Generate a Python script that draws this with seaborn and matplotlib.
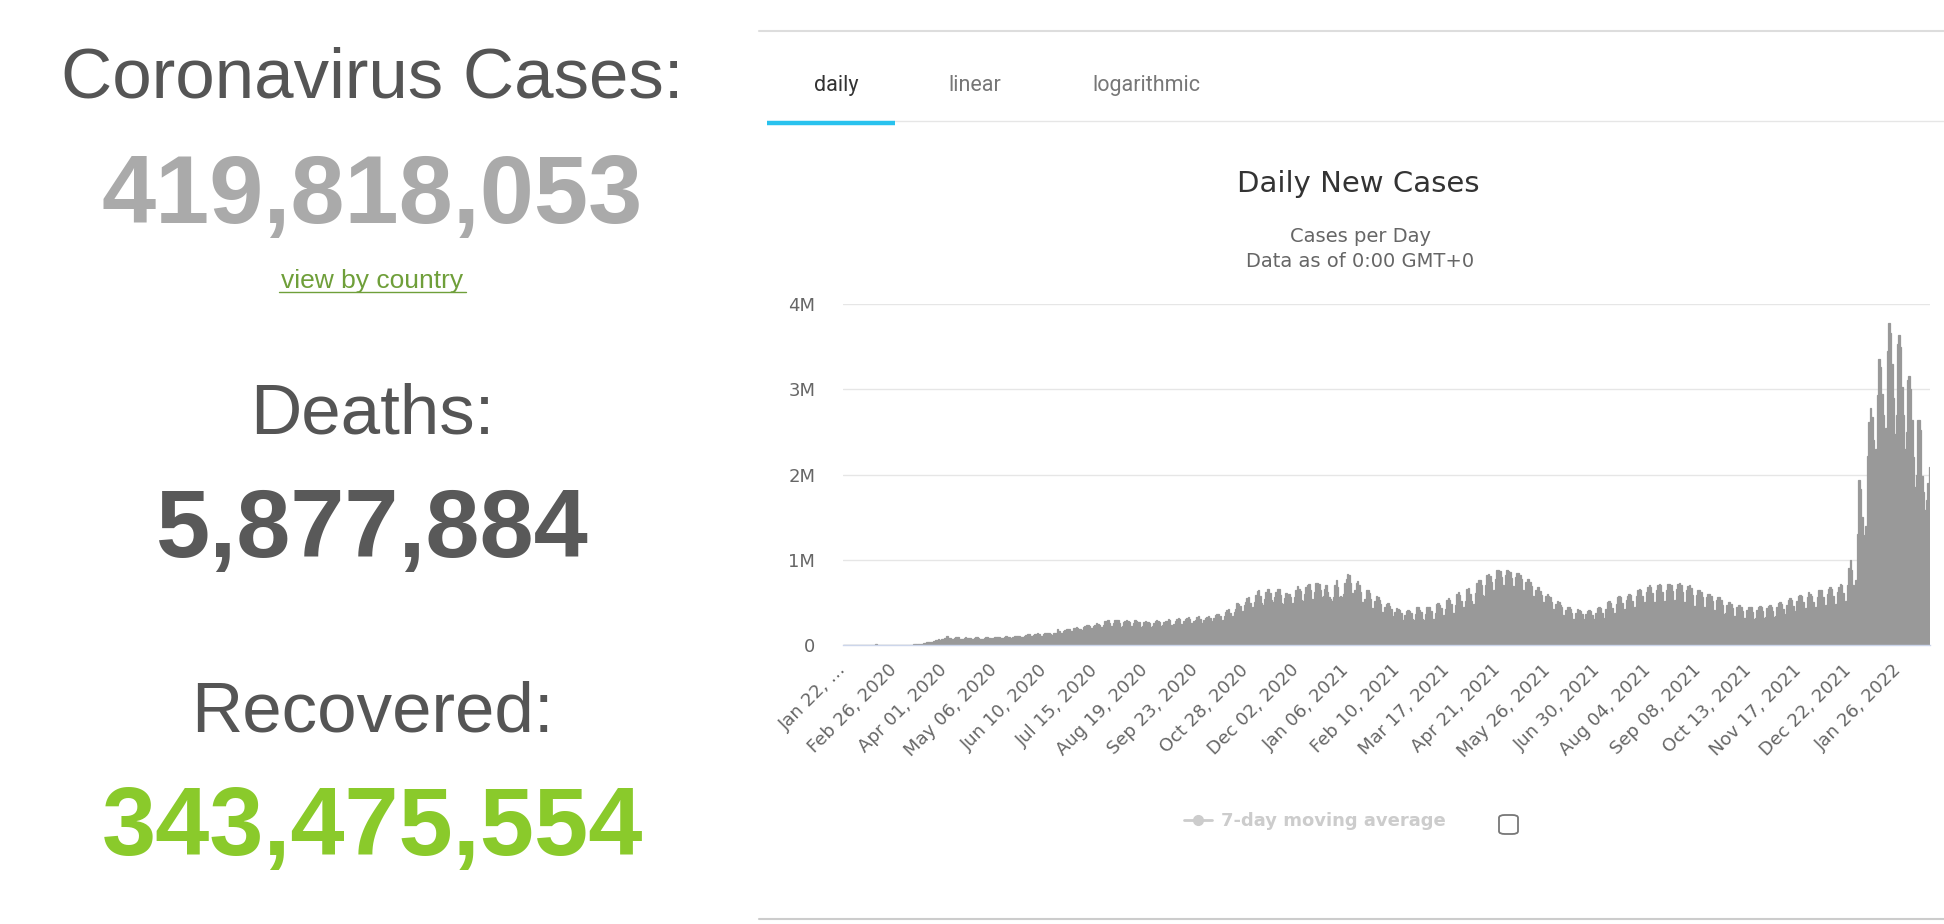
import matplotlib
matplotlib.use("Agg")
import matplotlib.pyplot as plt
from matplotlib.lines import Line2D
from matplotlib.patches import FancyBboxPatch
import numpy as np
import pandas as pd
import seaborn as sns

# daily new cases (thousands), Jan 22 2020 .. Feb 16 2022
new_cases_2020 = [
    0.1, 0.1, 0.3, 0.7, 0.8, 1.8, 1.4,
    1.8, 2.1, 2.0, 2.6, 2.8, 3.2, 3.9,
    3.7, 3.2, 3.4, 2.7, 2.6, 3.1, 2.0,
    2.0, 15.1, 6.5, 2.6, 2.1, 2.0, 1.9,
    0.6, 0.9, 1.0, 1.5, 1.8, 1.6, 1.1,
    1.2, 1.4, 2.0, 1.9, 2.3, 1.9, 2.5,
    2.7, 3.6, 4.0, 4.0, 4.0, 5.0, 4.5,
    7.5, 7.6, 10.9, 11.0, 11.6, 14.6, 15.0,
    18, 27, 31, 32, 34, 41, 41,
    50, 62, 63, 66, 61, 71, 73,
    77, 81, 101, 83, 78, 73, 71,
    83, 88, 94, 88, 75, 72, 71,
    85, 98, 87, 83, 81, 75, 73,
    78, 90, 99, 86, 71, 72, 76,
    81, 91, 88, 87, 77, 76, 84,
    91, 93, 97, 91, 78, 77, 83,
    90, 101, 96, 95, 83, 85, 95,
    104, 108, 110, 104, 90, 92, 97,
    108, 116, 124, 124, 103, 103, 117,
    125, 129, 135, 128, 108, 107, 125,
    136, 139, 143, 140, 128, 123, 141,
    141, 145, 182, 168, 143, 140, 167,
    177, 182, 190, 187, 162, 165, 196,
    205, 210, 195, 190, 182, 172, 207,
    218, 229, 236, 220, 200, 198, 223,
    240, 253, 249, 230, 212, 216, 240,
    285, 284, 288, 260, 225, 220, 256,
    296, 290, 292, 263, 216, 226, 264,
    278, 293, 283, 266, 224, 225, 260,
    293, 286, 274, 266, 215, 220, 270,
    276, 274, 266, 258, 216, 222, 256,
    284, 290, 280, 268, 222, 232, 265,
    278, 284, 308, 290, 240, 221, 248,
    287, 305, 316, 300, 249, 239, 283,
    305, 318, 328, 306, 253, 260, 286,
    297, 327, 338, 306, 255, 259, 296,
    322, 327, 346, 312, 266, 283, 319,
    357, 363, 360, 345, 284, 296, 340,
    383, 411, 418, 373, 309, 336, 383,
    427, 495, 483, 458, 370, 402, 475,
    509, 548, 559, 490, 420, 447, 508,
    590, 628, 645, 580, 493, 470, 542,
    626, 652, 660, 607, 524, 502, 565,
    617, 660, 660, 582, 496, 480, 550,
    610, 560, 598, 565, 486, 492, 564,
    650, 690, 662, 635, 530, 518, 604,
    680, 700, 720, 650, 540, 530, 620,
    730, 730, 720, 640, 560, 570, 660,
    700, 620, 560, 540, 520, 560, 700,
    760, 680,
]
new_cases_2021 = [
    560, 580, 560, 600, 730,
    780, 830, 820, 730, 610, 570, 650,
    730, 750, 700, 620, 500, 470, 540,
    640, 650, 610, 540, 430, 420, 520,
    570, 560, 530, 480, 390, 370, 440,
    480, 490, 460, 420, 340, 320, 390,
    430, 420, 410, 370, 290, 290, 350,
    400, 410, 400, 370, 300, 290, 360,
    440, 450, 410, 390, 300, 290, 360,
    450, 450, 440, 400, 310, 300, 380,
    480, 490, 470, 430, 340, 350, 420,
    530, 550, 530, 480, 380, 380, 470,
    600, 620, 590, 520, 420, 440, 520,
    660, 670, 600, 520, 440, 480, 610,
    730, 760, 760, 700, 590, 580, 700,
    820, 830, 810, 740, 630, 650, 780,
    880, 880, 870, 800, 700, 690, 820,
    880, 870, 860, 790, 690, 680, 800,
    840, 850, 820, 770, 650, 620, 740,
    780, 780, 740, 690, 580, 560, 640,
    680, 680, 630, 590, 500, 490, 570,
    600, 580, 560, 510, 420, 400, 480,
    520, 500, 470, 450, 350, 330, 410,
    450, 440, 420, 380, 310, 310, 380,
    420, 410, 400, 360, 290, 300, 360,
    400, 410, 400, 350, 300, 310, 380,
    430, 440, 430, 370, 300, 320, 420,
    500, 520, 490, 430, 350, 370, 480,
    560, 580, 560, 490, 400, 420, 530,
    580, 600, 590, 520, 430, 450, 580,
    650, 660, 640, 580, 480, 500, 620,
    680, 700, 680, 610, 500, 510, 640,
    700, 720, 700, 620, 510, 520, 650,
    710, 720, 700, 630, 510, 530, 660,
    720, 730, 700, 620, 500, 510, 650,
    690, 700, 670, 590, 460, 460, 590,
    650, 640, 620, 560, 440, 430, 560,
    600, 600, 580, 520, 410, 400, 530,
    560, 560, 530, 470, 360, 370, 470,
    500, 500, 480, 430, 340, 340, 440,
    470, 470, 450, 400, 320, 320, 410,
    440, 450, 440, 390, 310, 320, 410,
    450, 460, 440, 400, 320, 330, 430,
    460, 470, 450, 400, 330, 340, 450,
    490, 500, 480, 420, 350, 360, 470,
    530, 550, 530, 460, 380, 400, 520,
    580, 590, 570, 500, 410, 430, 560,
    620, 600, 580, 500, 420, 440, 560,
    640, 650, 640, 560, 450, 470, 600,
    660, 680, 660, 580, 470, 480, 620,
    680, 720, 700, 610, 480, 520, 700,
    900, 1000, 880, 700, 550, 760, 1300,
    1940, 1830, 1500,
]
new_cases_2022 = [
    1290, 1100, 1400, 2220,
    2620, 2780, 2680, 2400, 2230, 2300, 2930,
    3350, 3260, 2950, 2700, 2480, 2550, 3450,
    3780, 3660, 3300, 2900, 2480, 2700, 3530,
    3640, 3500, 3030, 2700, 2300, 2500, 3110,
    3150, 3000, 2640, 2200, 1850, 2000, 2640,
    2640, 2520, 1980, 1800, 1580, 1700, 1900,
    2090,
]

start_date = "2020-01-22"
tick_every = 35
y_ticks = [0, 1_000_000, 2_000_000, 3_000_000, 4_000_000]
y_tick_labels = ["0", "1M", "2M", "3M", "4M"]

tab_labels = ["daily", "linear", "logarithmic"]
stat_titles = ["Coronavirus Cases:", "Deaths:", "Recovered:"]
stat_values = ["419,818,053", "5,877,884", "343,475,554"]
stat_colors = ["#aaaaaa", "#595959", "#8aca2b"]

W, H = 1944, 924


def px(x, y):
    # pixel position (from top-left) -> figure fraction
    return x / W, 1 - y / H


sns.set_style("white")
plt.rcParams["font.family"] = ["DejaVu Sans"]

cases = np.array(new_cases_2020 + new_cases_2021 + new_cases_2022) * 1000
df = pd.DataFrame({"day": np.arange(len(cases)), "cases": cases})
dates = pd.date_range(start_date, periods=len(cases))

fig = plt.figure(figsize=(W / 100, H / 100), dpi=100)
fig.patch.set_facecolor("white")

# ---- left panel: counters ----
title_y = [97, 434, 731]
value_y = [223, 557, 855]
for t, v, c, ty, vy in zip(stat_titles, stat_values, stat_colors, title_y, value_y):
    fig.text(*px(372, ty), t, ha="center", va="baseline", fontsize=51,
             color="#555555", family="Liberation Sans")
    fig.text(*px(372, vy), v, ha="center", va="baseline", fontsize=70,
             color=c, family="Liberation Sans", fontweight="bold")
fig.text(*px(372, 288), "view by country", ha="center", va="baseline",
         fontsize=19, color="#6f9f3a", family="Liberation Sans")
fig.add_artist(Line2D([x / W for x in (279, 466)], [1 - 292 / H] * 2,
                      color="#6f9f3a", lw=1.0))

# ---- right panel frame and tabs ----
fig.add_artist(Line2D([759 / W, 1], [1 - 31 / H] * 2, color="#dddddd", lw=1.5))
fig.add_artist(Line2D([759 / W, 1], [1 - 919 / H] * 2, color="#cccccc", lw=1.5))
fig.add_artist(Line2D([895 / W, 1], [1 - 121 / H] * 2, color="#e6e6e6", lw=1.0))
fig.add_artist(Line2D([767 / W, 895 / W], [1 - 123 / H] * 2, color="#29c2ee",
                      lw=3.2, solid_capstyle="butt"))
for lab, x in zip(tab_labels, [836, 975, 1146]):
    fig.text(*px(x, 91), lab, ha="center", va="baseline", fontsize=15.5,
             family="Roboto", color="#333333" if lab == "daily" else "#777777")

fig.text(*px(1358, 192), "Daily New Cases", ha="center", va="baseline",
         fontsize=21, color="#333333")
fig.text(*px(1360, 242), "Cases per Day", ha="center", va="baseline",
         fontsize=14, color="#666666")
fig.text(*px(1360, 267), "Data as of 0:00 GMT+0", ha="center", va="baseline",
         fontsize=14, color="#666666")

# ---- bar chart ----
ax = fig.add_axes([843 / W, 1 - 645 / H, (1930 - 843) / W, (645 - 304) / H])
sns.barplot(data=df, x="day", y="cases", color="#999999", saturation=1,
            width=1.0, errorbar=None, edgecolor="#999999", linewidth=0.9, ax=ax)
ax.set_xlim(-0.5, len(cases) - 0.5)
ax.set_ylim(0, 4_000_000)
ax.set_xlabel("")
ax.set_ylabel("")

ticks = np.arange(0, len(cases), tick_every)
labels = [d.strftime("%b %d, %Y") for d in dates[ticks]]
labels[0] = "Jan 22, \u2026"
ax.set_xticks(ticks)
ax.set_xticklabels(labels, rotation=45, ha="right", va="center",
                   rotation_mode="anchor", fontsize=13, color="#666666")
ax.set_yticks(y_ticks)
ax.set_yticklabels(y_tick_labels, fontsize=13, color="#666666")
ax.tick_params(axis="x", length=0, pad=16)
ax.tick_params(axis="y", length=0, pad=20)
ax.grid(axis="y", color="#e6e6e6", lw=1.0)
ax.set_axisbelow(True)
for s in ["top", "right", "left"]:
    ax.spines[s].set_visible(False)
ax.spines["bottom"].set_color("#ccd6eb")
ax.spines["bottom"].set_linewidth(1.0)

# ---- legend (hidden series) and checkbox ----
fig.add_artist(Line2D([1184 / W, 1212 / W], [1 - 820 / H] * 2, color="#cccccc",
                      lw=2))
fig.add_artist(Line2D([1198 / W], [1 - 820 / H], color="#cccccc", marker="o",
                      markersize=7, lw=0))
fig.text(*px(1221, 821), "7-day moving average", ha="left", va="center",
         fontsize=13, fontweight="bold", color="#cccccc")
fig.add_artist(FancyBboxPatch((1499 / W, 1 - 834 / H), 19 / W, 19 / H,
                              boxstyle="round,pad=0,rounding_size=0.003",
                              transform=fig.transFigure, facecolor="white",
                              edgecolor="#777777", lw=1.3))

fig.savefig("out.png", dpi=100)
